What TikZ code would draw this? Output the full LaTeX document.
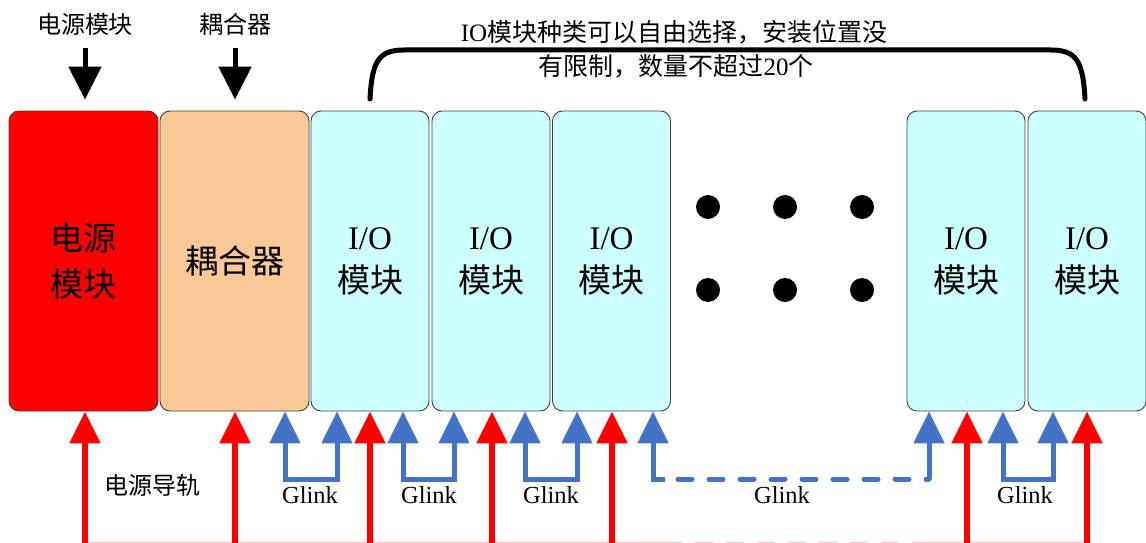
\documentclass[tikz,border=0pt]{standalone}
\usepackage{fontspec}
\setmainfont{Liberation Serif}
\newfontfamily\cjk{Noto Sans CJK SC}
\usetikzlibrary{arrows.meta}
\definecolor{pwrred}{RGB}{255,0,0}
\definecolor{cplpeach}{RGB}{251,201,152}
\definecolor{iocyan}{RGB}{204,255,255}
\definecolor{glinkblue}{RGB}{68,114,196}
\definecolor{railpink}{RGB}{255,190,190}

\begin{document}
\begin{tikzpicture}[x=1pt,y=-1pt,
  module/.style={draw=black!75, line width=0.9pt, rounded corners=10pt,
    minimum height=300pt, inner sep=0pt, align=center,
    font=\fontsize{33}{46}\selectfont},
  iomod/.style={module, fill=iocyan, minimum width=118pt,
    font=\fontsize{33}{43}\selectfont},
  toplabel/.style={font=\cjk\fontsize{24}{28}\selectfont, inner sep=0pt},
  glinklabel/.style={font=\fontsize{24.5}{28}\selectfont, anchor=base, inner sep=0pt},
  dot/.style={circle, fill=black, minimum size=24pt, inner sep=0pt},
  blackarrow/.style={line width=5pt, -{Triangle[width=32pt,length=33pt]}},
  powerarrow/.style={pwrred, line width=5.5pt, -{Triangle[width=30pt,length=32pt]}},
  glinkarrow/.style={glinkblue, line width=5pt, line join=miter,
    {Triangle[width=30pt,length=32pt]}-{Triangle[width=30pt,length=32pt]}},
  glinkstub/.style={glinkblue, line width=5pt, -{Triangle[width=30pt,length=32pt]}},
  glinkdash/.style={glinkblue, line width=5pt, line cap=round, dash pattern=on 14pt off 17pt},
]
\useasboundingbox (0,0) rectangle (1146,543);

% modules on the rail
\node[module, fill=pwrred, minimum width=149pt] (pm) at (83.5,261) {\cjk 电源\\\cjk 模块};
\node[module, fill=cplpeach, minimum width=149pt] (cpl) at (234.5,261) {\cjk 耦合器};
\node[iomod] (io1) at (370,261) {I/O\\\cjk 模块};
\node[iomod] (io2) at (491,261) {I/O\\\cjk 模块};
\node[iomod] (io3) at (611.5,261) {I/O\\\cjk 模块};
\node[iomod] (io4) at (966,261) {I/O\\\cjk 模块};
\node[iomod] (io5) at (1087,261) {I/O\\\cjk 模块};

% ellipsis between the I/O groups
\foreach \i/\x in {1/708,2/785,3/862}{
  \node[dot] (dt\i) at (\x,207) {};
  \node[dot] (db\i) at (\x,290) {};
}

% top callouts
\node[toplabel] (lpm) at (85,24) {电源模块};
\node[toplabel] (lcpl) at (235,24) {耦合器};
\coordinate (apm) at (85,48);
\coordinate (acpl) at (235,48);
\draw[blackarrow, shorten >=11pt] (apm) -- (apm |- pm.north);
\draw[blackarrow, shorten >=11pt] (acpl) -- (acpl |- cpl.north);

% brace over the I/O modules
\coordinate (bl) at (370,99);
\coordinate (br) at (1085,99);
\draw[line width=5pt, line cap=round]
  (bl) .. controls (372,62) and (378,50) .. (404,50) -- (1051,50)
  .. controls (1077,50) and (1083,62) .. (br);
\node[inner sep=0pt, font=\fontsize{25}{28}\selectfont] (bt1) at (674,32)
  {IO{\cjk 模块种类可以自由选择，安装位置没}};
\node[inner sep=0pt, font=\fontsize{25}{28}\selectfont] (bt2) at (676,66)
  {{\cjk 有限制，数量不超过}20{\cjk 个}};

% power rail along the bottom edge
\coordinate (rl) at (85,542.5);
\coordinate (rd1) at (664,542.5);
\coordinate (rd2) at (912,542.5);
\coordinate (rr) at (1087,542.5);
\draw[railpink, line width=1.2pt] (rl) -- (rd1);
\draw[railpink, line width=1.2pt, dash pattern=on 18pt off 13pt] (rd1) -- (rd2);
\draw[railpink, line width=1.2pt] (rd2) -- (rr);
\node[toplabel] (lrail) at (152,485) {电源导轨};

% power feeds from the rail
\foreach \n/\x in {pm/85,cpl/235,io1/370,io2/492,io3/612,io4/967,io5/1087}{
  \coordinate (p\n) at (\x,545);
  \draw[powerarrow] (p\n) -- (p\n |- \n.south);
}

% Glink connections between neighbouring modules
\coordinate (g1a) at (285,479); \coordinate (g1b) at (337,479);
\coordinate (g2a) at (403,479); \coordinate (g2b) at (454,479);
\coordinate (g3a) at (525,479); \coordinate (g3b) at (577,479);
\coordinate (g4a) at (653,479); \coordinate (g4b) at (929,479);
\coordinate (g5a) at (1003,479); \coordinate (g5b) at (1053,479);
\draw[glinkarrow] (g1a |- cpl.south) -- (g1a) -- (g1b) -- (g1b |- io1.south);
\draw[glinkarrow] (g2a |- io1.south) -- (g2a) -- (g2b) -- (g2b |- io2.south);
\draw[glinkarrow] (g3a |- io2.south) -- (g3a) -- (g3b) -- (g3b |- io3.south);
\draw[glinkarrow] (g5a |- io4.south) -- (g5a) -- (g5b) -- (g5b |- io5.south);
\draw[glinkstub] (g4a) -- (g4a |- io3.south);
\draw[glinkstub] (g4b) -- (g4b |- io4.south);
\draw[glinkblue, line width=5pt] ([xshift=-2.5pt]g4a) -- ++(14pt,0);
\draw[glinkdash] ([xshift=25pt]g4a) -- (g4b);

\node[glinklabel] (gl1) at (310,503) {Glink};
\node[glinklabel] (gl2) at (429,503) {Glink};
\node[glinklabel] (gl3) at (551,503) {Glink};
\node[glinklabel] (gl4) at (782,503) {Glink};
\node[glinklabel] (gl5) at (1025,503) {Glink};
\end{tikzpicture}
\end{document}
